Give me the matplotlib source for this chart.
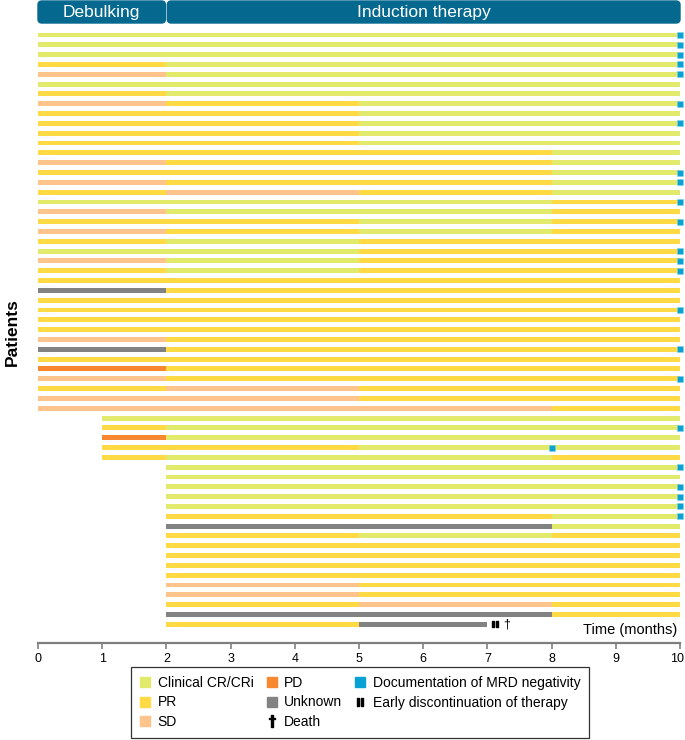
import matplotlib
matplotlib.use('Agg')
from matplotlib import pyplot as plt
from matplotlib.patches import FancyBboxPatch
from matplotlib.lines import Line2D
from matplotlib.transforms import ScaledTranslation

plt.rcParams['font.family'] = ['Liberation Sans', 'DejaVu Sans']

# response colours
colors = {'CR': '#e1ea6a', 'PR': '#ffda45', 'SD': '#ffc38c', 'PD': '#f7882f', 'UNK': '#828282'}
mrd_color = '#0aa2d4'
header_color = '#05698f'

# month each patient entered, then (status, end month) for each stretch
start_month = [0] * 39 + [1] * 5 + [2] * 17
segments = [
    [('CR', 10)],
    [('CR', 10)],
    [('CR', 10)],
    [('PR', 2), ('CR', 10)],
    [('SD', 2), ('CR', 10)],
    [('CR', 10)],
    [('PR', 2), ('CR', 10)],
    [('SD', 2), ('PR', 5), ('CR', 10)],
    [('PR', 5), ('CR', 10)],
    [('PR', 5), ('CR', 10)],
    [('PR', 5), ('CR', 10)],
    [('PR', 5), ('CR', 10)],
    [('PR', 8), ('CR', 10)],
    [('SD', 2), ('PR', 8), ('CR', 10)],
    [('PR', 8), ('CR', 10)],
    [('SD', 2), ('PR', 8), ('CR', 10)],
    [('PR', 2), ('SD', 5), ('PR', 8), ('CR', 10)],
    [('CR', 8), ('PR', 10)],
    [('SD', 2), ('CR', 8), ('PR', 10)],
    [('PR', 5), ('CR', 8), ('PR', 10)],
    [('SD', 2), ('PR', 5), ('CR', 8), ('PR', 10)],
    [('PR', 2), ('CR', 5), ('PR', 10)],
    [('CR', 5), ('PR', 10)],
    [('SD', 2), ('CR', 5), ('PR', 10)],
    [('PR', 2), ('CR', 5), ('PR', 10)],
    [('PR', 10)],
    [('UNK', 2), ('PR', 10)],
    [('PR', 10)],
    [('PR', 10)],
    [('PR', 10)],
    [('PR', 10)],
    [('SD', 2), ('PR', 10)],
    [('UNK', 2), ('PR', 10)],
    [('PR', 10)],
    [('PD', 2), ('PR', 10)],
    [('SD', 2), ('PR', 10)],
    [('PR', 2), ('SD', 5), ('PR', 10)],
    [('SD', 5), ('PR', 10)],
    [('SD', 8), ('PR', 10)],
    # started at month 1
    [('CR', 10)],
    [('PR', 2), ('CR', 10)],
    [('PD', 2), ('CR', 10)],
    [('PR', 5), ('CR', 10)],
    [('PR', 2), ('CR', 8), ('PR', 10)],
    # started at month 2
    [('CR', 10)],
    [('CR', 10)],
    [('CR', 10)],
    [('CR', 10)],
    [('CR', 10)],
    [('PR', 8), ('CR', 10)],
    [('UNK', 8), ('CR', 10)],
    [('PR', 5), ('CR', 8), ('PR', 10)],
    [('PR', 10)],
    [('PR', 10)],
    [('PR', 10)],
    [('PR', 10)],
    [('SD', 5), ('PR', 10)],
    [('SD', 5), ('PR', 10)],
    [('PR', 5), ('SD', 8), ('PR', 10)],
    [('UNK', 8), ('PR', 10)],
    [('PR', 5), ('UNK', 7)],
]
# month of MRD negativity per patient (None = not documented)
mrd_month = [10, 10, 10, 10, 10, None, None, 10, None, 10, None, None,
             None, None, 10, 10, None, 10, None, 10, None, None, 10, 10, 10,
             None, None, None, 10, None, None, None, 10, None, None, 10, None, None, None,
             None, 10, None, 8, None,
             10, None, 10, 10, 10, 10, None, None, None, None, None, None, None, None, None, None, None]
discontinued = {60: 7.12}
death = {60: 7.3}

n = len(segments)

fig = plt.figure(figsize=(6.85, 7.40), dpi=100)
ax = fig.add_axes([38 / 685, 1 - 643 / 740, 642 / 685, 643 / 740])

for i in range(n):
    left = start_month[i]
    for status, end in segments[i]:
        ax.barh(i, end - left, left=left, height=0.5, color=colors[status], linewidth=0)
        left = end
    if mrd_month[i] is not None:
        ax.plot(mrd_month[i], i, marker='s', ms=5, color=mrd_color, mec='#7fd0ea',
                mew=0.4, clip_on=False, zorder=5)
for i, m in discontinued.items():
    ax.plot(m, i, marker=r'$\mathbf{II}$', ms=5, color='black', ls='')
for i, m in death.items():
    ax.text(m, i, '\u2020', ha='center', va='center', fontsize=9)

ax.set_xlim(0, 10)
ax.set_ylim(60 + 18.7 / 9.82, -35 / 9.82)
ax.set_xticks(range(0, 11))
ax.set_yticks([])
for s in ['top', 'right', 'left']:
    ax.spines[s].set_visible(False)
ax.spines['bottom'].set_color('#7f7f7f')
ax.spines['bottom'].set_linewidth(1.6)
ax.tick_params(axis='x', colors='#7f7f7f', width=1.2, length=4, labelsize=9, labelcolor='black')
# keep the last tick label inside the canvas
last = ax.get_xticklabels()[-1]
last.set_transform(last.get_transform() + ScaledTranslation(-2 / 72, 0, fig.dpi_scale_trans))
ax.text(9.96, 61.3, 'Time (months)', ha='right', va='bottom', fontsize=10.5)
fig.text(12 / 685, 1 - 332 / 740, 'Patients', rotation=90, ha='center', va='center',
         fontsize=12.5, fontweight='bold')

# phase header
axh = fig.add_axes([38 / 685, 1 - 23 / 740, 642 / 685, 22 / 740])
axh.set_xlim(0, 10)
axh.set_ylim(0, 1)
axh.axis('off')
for x0, x1, label in [(0, 1.985, 'Debulking'), (2.015, 10, 'Induction therapy')]:
    axh.add_patch(FancyBboxPatch((x0, 0), x1 - x0, 1, boxstyle='round,pad=0,rounding_size=0.06',
                                 mutation_aspect=2.92, color=header_color, clip_on=False))
    axh.text((x0 + x1) / 2, 0.5, label, color='white', ha='center', va='center', fontsize=12.5)

handles = [
    Line2D([], [], marker='s', ls='', ms=7, color=colors['CR']),
    Line2D([], [], marker='s', ls='', ms=7, color=colors['PR']),
    Line2D([], [], marker='s', ls='', ms=7, color=colors['SD']),
    Line2D([], [], marker='s', ls='', ms=7, color=colors['PD']),
    Line2D([], [], marker='s', ls='', ms=7, color=colors['UNK']),
    Line2D([], [], marker='$\u2020$', ls='', ms=8, color='black'),
    Line2D([], [], marker='s', ls='', ms=7, color=mrd_color),
    Line2D([], [], marker=r'$\mathbf{II}$', ls='', ms=6, color='black'),
]
labels = ['Clinical CR/CRi', 'PR', 'SD', 'PD', 'Unknown', 'Death',
          'Documentation of MRD negativity', 'Early discontinuation of therapy']
leg = fig.legend(handles, labels, ncol=3, loc='center', bbox_to_anchor=(360 / 685, 1 - 702.5 / 740),
                 fontsize=10, frameon=True, fancybox=False, edgecolor='black',
                 handlelength=0.8, handletextpad=0.5, columnspacing=0.9, labelspacing=0.38,
                 borderpad=0.65)
leg.get_frame().set_linewidth(0.9)

fig.savefig('out.png', dpi=100)
